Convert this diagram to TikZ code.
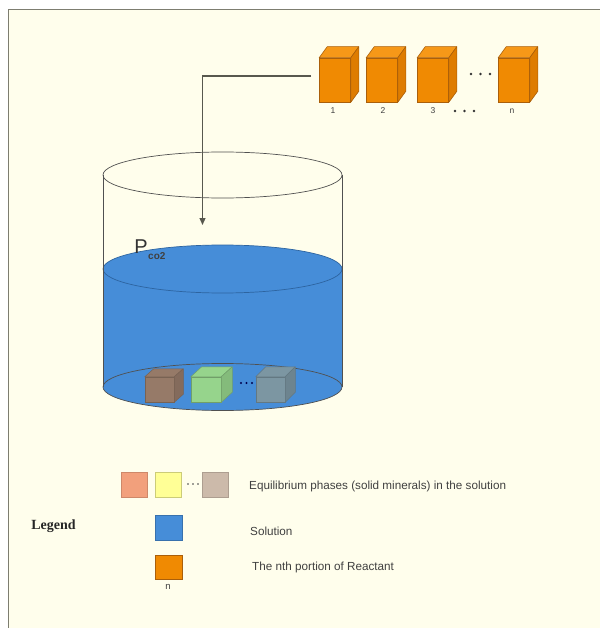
\documentclass[tikz,border=0pt]{standalone}
\usepackage{fontspec}
\setmainfont{Liberation Sans}
\newfontfamily\legendfont{Liberation Serif}
\usetikzlibrary{arrows.meta}

\definecolor{paper}{RGB}{255,254,236}
\definecolor{framegray}{RGB}{125,125,112}
\definecolor{inkgray}{RGB}{64,64,64}
\definecolor{rimgray}{RGB}{80,80,80}
\definecolor{water}{RGB}{70,141,216}
\definecolor{wateredge}{RGB}{45,100,160}
\definecolor{reactant}{RGB}{240,138,2}
\definecolor{reactanttop}{RGB}{246,152,24}
\definecolor{reactantside}{RGB}{222,124,0}
\definecolor{reactantedge}{RGB}{170,95,10}
\definecolor{brownmin}{RGB}{150,122,104}
\definecolor{greenmin}{RGB}{150,212,140}
\definecolor{graymin}{RGB}{124,150,162}
\definecolor{salmon}{RGB}{242,160,124}
\definecolor{paleyellow}{RGB}{255,255,150}
\definecolor{tan}{RGB}{204,186,170}

\tikzset{
  reactbox/.style={rectangle, minimum width=31pt, minimum height=44pt, inner sep=0pt,
    fill=reactant, draw=reactantedge, line width=0.6pt},
  mineral/.style={rectangle, minimum width=29pt, minimum height=25pt, inner sep=0pt,
    line width=0.5pt},
  swatch/.style={rectangle, minimum width=26pt, minimum height=25pt, inner sep=0pt,
    line width=0.5pt},
  lbl/.style={text=inkgray, font=\fontsize{11.7}{13}\selectfont, inner sep=0pt, anchor=west},
  numlbl/.style={text=inkgray, font=\fontsize{8.5}{9}\selectfont, inner sep=0pt},
  rim/.style={draw=rimgray, line width=0.7pt},
  feed/.style={draw=framegray!70!black, line width=1.1pt, -{Triangle[length=7pt,width=6pt]}},
}

% a box drawn in perspective: top and right faces attached to a front node
\newcommand{\boxfaces}[5]{% node, dx, dy, top colour, side colour
  \filldraw[fill=#4, draw=reactantedge, line width=0.6pt, line join=round]
    (#1.north west) -- ++(#2,#3) -- ([shift={(#2,#3)}]#1.north east) -- (#1.north east) -- cycle;
  \filldraw[fill=#5, draw=reactantedge, line width=0.6pt, line join=round]
    (#1.north east) -- ++(#2,#3) -- ([shift={(#2,#3)}]#1.south east) -- (#1.south east) -- cycle;
}
\newcommand{\cubefaces}[4]{% node, fill, edge, dx/dy
  \filldraw[fill=#2, draw=#3, line width=0.5pt, line join=round]
    (#1.north west) -- ++(#4) -- ([shift={(#4)}]#1.north east) -- (#1.north east) -- cycle;
  \filldraw[fill=#2!88!black, draw=#3, line width=0.5pt, line join=round]
    (#1.north east) -- ++(#4) -- ([shift={(#4)}]#1.south east) -- (#1.south east) -- cycle;
}

\begin{document}
\begin{tikzpicture}[x=1pt,y=1pt]
\useasboundingbox (0,0) rectangle (600,-628);
\fill[white] (0,0) rectangle (600,-628);
\fill[paper] (8,-9) rectangle (600,-628);
\draw[framegray, line width=1pt] (8.5,-628) -- (8.5,-9.5) -- (600,-9.5);

% ---- reactant portions ----
\node[reactbox] (box1) at (335,-80) {};
\node[reactbox] (box2) at (382,-80) {};
\node[reactbox] (box3) at (433,-80) {};
\node[reactbox] (boxn) at (514,-80) {};
\foreach \b in {box1,box2,box3,boxn}{\boxfaces{\b}{8}{11}{reactanttop}{reactantside}}
\node[numlbl] (l1) at (333,-111) {1};
\node[numlbl] (l2) at (383,-111) {2};
\node[numlbl] (l3) at (433,-111) {3};
\node[numlbl] (ln) at (512,-111) {n};
\foreach \x in {471,480.5,490}{\fill[black!80] (\x,-74) circle (1.4pt);}
\foreach \x in {455,464.5,474}{\fill[black!80] (\x,-111) circle (1.4pt);}

% ---- vessel ----
\coordinate (vc) at (222.5,-175);
\coordinate (sc) at (222.5,-269);
\coordinate (bc) at (222.5,-387);
\fill[water] (103,-269) arc[start angle=180,end angle=0,x radius=119.5pt,y radius=24pt]
  -- (342,-387) arc[start angle=0,end angle=-180,x radius=119.5pt,y radius=23.5pt] -- cycle;
\draw[wateredge, line width=0.7pt] (sc) ellipse[x radius=119.5pt, y radius=24pt];
\draw[rim] (bc) ellipse[x radius=119.5pt, y radius=23.5pt];
\draw[rim] (vc) ellipse[x radius=119.5pt, y radius=23pt];
\draw[rim] (103,-175) -- (103,-387);
\draw[rim] (342,-175) -- (342,-387);

% minerals resting on the bottom
\node[mineral, fill=brownmin, draw=brownmin!80!black] (m1) at (159.5,-389.5) {};
\cubefaces{m1}{brownmin}{brownmin!80!black}{9,8}
\node[mineral, minimum width=30pt, fill=greenmin, draw=greenmin!75!black] (m2) at (206,-389.5) {};
\cubefaces{m2}{greenmin}{greenmin!75!black}{11,10}
\node[mineral, fill=graymin, draw=graymin!80!black] (m3) at (270.5,-389.5) {};
\cubefaces{m3}{graymin}{graymin!80!black}{10,10}
\foreach \x in {241,246.5,252}{\fill[blue!30!black] (\x,-383) circle (1.1pt);}

% partial pressure label
\node[text=inkgray!80!black, font=\fontsize{20}{22}\selectfont, inner sep=0pt] (pco) at (141,-247) {P};
\node[text=inkgray, font=\bfseries\fontsize{10}{11}\selectfont, inner sep=0pt, anchor=west] (sub) at (148,-256.5) {co2};

% feed line from the first portion into the vessel
\coordinate (feedstart) at (311,-76);
\coordinate (drop) at (202.5,-225);
\draw[feed] (feedstart) -| (drop);

% ---- legend ----
\node[swatch, fill=salmon, draw=salmon!85!black] (s1) at (134,-484.5) {};
\node[swatch, fill=paleyellow, draw=paleyellow!80!black] (s2) at (168,-484.5) {};
\node[swatch, fill=tan, draw=tan!85!black] (s3) at (215,-484.5) {};
\foreach \x in {188,193,198}{\fill[black!75] (\x,-484) circle (0.8pt);}
\node[lbl] (t1) at (249,-486) {Equilibrium phases (solid minerals) in the solution};

\node[font=\legendfont\bfseries\fontsize{14}{16}\selectfont, text=black!85, inner sep=0pt] (leg) at (53.5,-526) {Legend};
\node[swatch, minimum width=27pt, fill=water, draw=water!80!black] (s4) at (168.5,-527.5) {};
\node[lbl] (t2) at (250,-531) {Solution};

\node[swatch, minimum width=27pt, minimum height=24pt, fill=reactant, draw=reactantedge] (s5) at (168.5,-567) {};
\node[lbl] (t3) at (252,-567) {The nth portion of Reactant};
\node[numlbl, font=\fontsize{9.5}{10}\selectfont] (t4) at (168,-587) {n};
\end{tikzpicture}
\end{document}
